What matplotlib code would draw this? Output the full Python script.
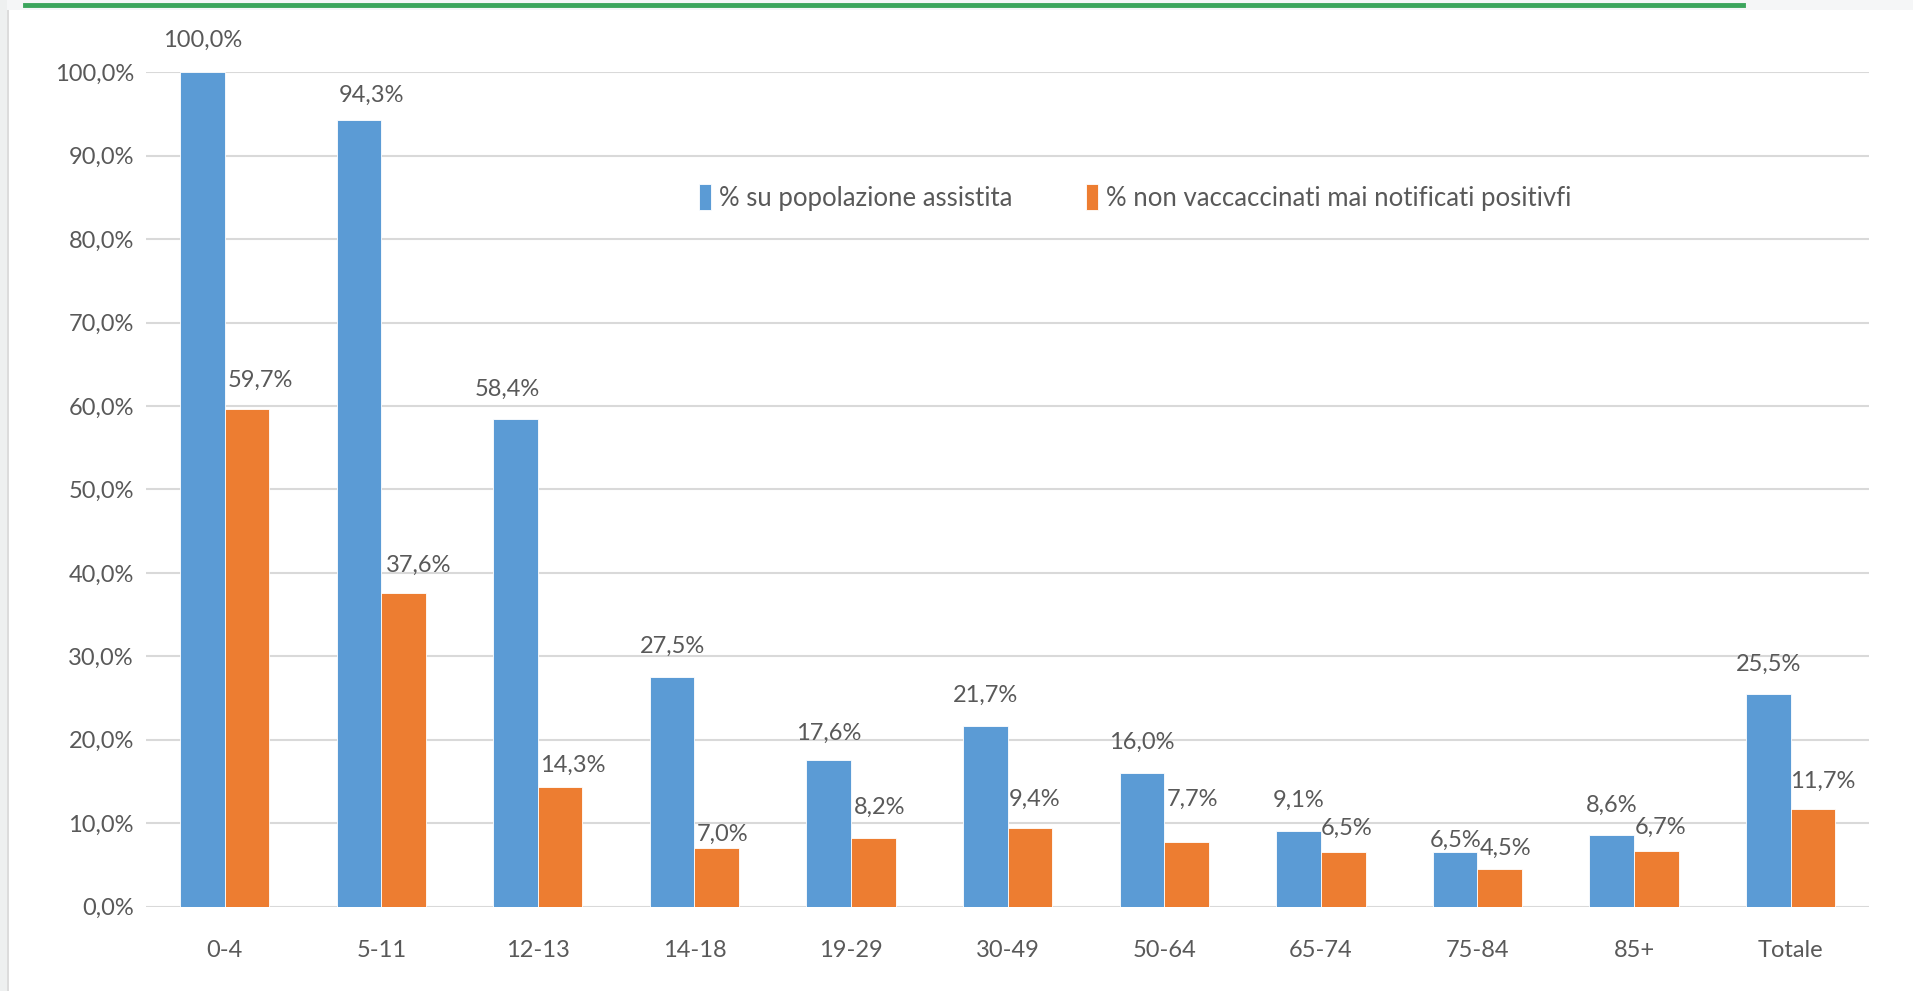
import matplotlib.pyplot as plt
import matplotlib.patches as patches
import numpy as np

plt.rcParams['font.family'] = ['Lato', 'DejaVu Sans']

# dati
categorie = ['0-4', '5-11', '12-13', '14-18', '19-29', '30-49', '50-64',
             '65-74', '75-84', '85+', 'Totale']
pop_assistita = [100.0, 94.3, 58.4, 27.5, 17.6, 21.7, 16.0, 9.1, 6.5, 8.6, 25.5]
non_vacc = [59.7, 37.6, 14.3, 7.0, 8.2, 9.4, 7.7, 6.5, 4.5, 6.7, 11.7]
yticks = np.arange(0, 101, 10)

# spostamenti delle etichette (dx, dy in pixel dell'immagine ridotta), come nell'originale
spost_blu = [(0, 26), (10, 20), (-7, 25), (0, 25), (0, 22), (0, 25),
             (0, 25), (0, 25), (0, 10), (0, 24), (0, 24)]
spost_arancio = [(11, 23), (12, 23), (10, 18), (5, 11), (5, 25), (4, 24),
                 (5, 35), (3, 20), (5, 17), (3, 19), (8, 23)]

blu = '#5B9BD5'
arancio = '#ED7D31'
grigio_testo = '#595959'

fig = plt.figure(figsize=(19.13, 9.91), dpi=100)
fig.patch.set_facecolor('white')

# sfondo della slide: striscia grigia in alto e a sinistra, linea verde
fig.patches.append(patches.Rectangle((0, 0.99), 1, 0.01, transform=fig.transFigure,
                                     fc='#F5F6F7', ec='none', zorder=0))
fig.patches.append(patches.Rectangle((0, 0), 0.0037, 1, transform=fig.transFigure,
                                     fc='#EEF0F0', ec='none', zorder=0))
fig.patches.append(patches.Rectangle((0.0037, 0), 0.0011, 0.99, transform=fig.transFigure,
                                     fc='#DCDCDC', ec='none', zorder=0))
fig.lines.append(plt.Line2D([0.013, 0.911], [0.9945, 0.9945], transform=fig.transFigure,
                            color='#3BA55C', lw=3.5))

ax = fig.add_axes([0.0765, 0.0852, 0.9005, 0.8418])

x = np.arange(len(categorie))
w = 0.285
b1 = ax.bar(x - w / 2, pop_assistita, w, color=blu, edgecolor='white', linewidth=0.6,
            label='% su popolazione assistita', zorder=2)
b2 = ax.bar(x + w / 2, non_vacc, w, color=arancio, edgecolor='white', linewidth=0.6,
            label='% non vaccaccinati mai notificati positivfi', zorder=2)

# etichette dei valori
k = 0.878  # px immagine ridotta -> punti
for bars, vals, sp in ((b1, pop_assistita, spost_blu), (b2, non_vacc, spost_arancio)):
    for r, v, (dx, dy) in zip(bars, vals, sp):
        ax.annotate(f'{v:.1f}%'.replace('.', ','),
                    (r.get_x() + r.get_width() / 2, r.get_height()),
                    xytext=(dx * k, dy * k), textcoords='offset points',
                    ha='center', va='center', fontsize=17, color=grigio_testo,
                    annotation_clip=False)

ax.set_xlim(-0.5, len(categorie) - 0.5)
ax.set_ylim(0, 100)
ax.set_yticks(yticks)
ax.set_yticklabels([f'{t:.1f}%'.replace('.', ',') for t in yticks])
ax.set_xticks(x)
ax.set_xticklabels(categorie)
ax.tick_params(axis='both', length=0, labelsize=17, colors=grigio_testo)
ax.tick_params(axis='y', pad=9)
ax.tick_params(axis='x', pad=24)
ax.yaxis.grid(True, color='#D9D9D9', lw=1.5, zorder=0)
ax.set_axisbelow(True)
for s in ax.spines.values():
    s.set_visible(False)

leg = ax.legend(loc='center', bbox_to_anchor=(0.574, 0.85), ncol=2, frameon=False,
                fontsize=18.5, handlelength=0.45, handleheight=1.2, handletextpad=0.3,
                columnspacing=2.9)
for t in leg.get_texts():
    t.set_color(grigio_testo)

fig.savefig('out.png', dpi=100)
